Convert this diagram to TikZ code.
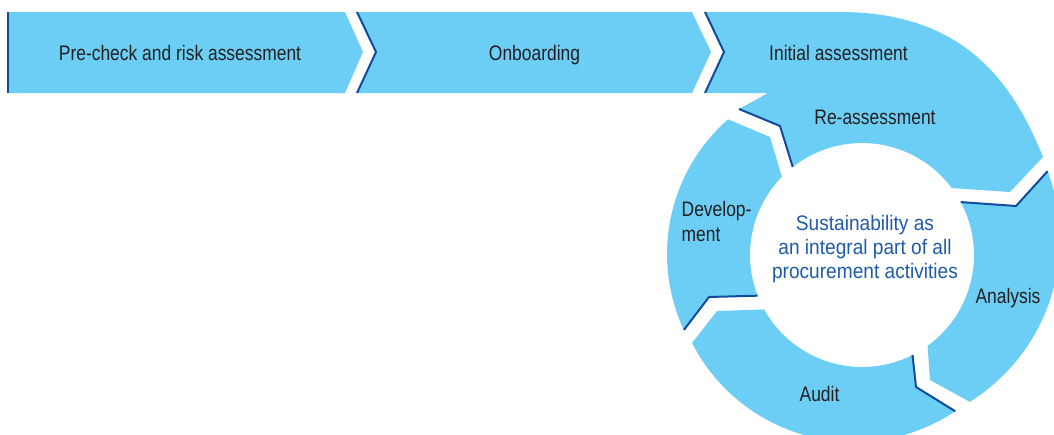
\documentclass[tikz,border=0pt]{standalone}
\usepackage{fontspec}
\setmainfont{Liberation Sans}
\newfontfamily\labelfont{Liberation Sans}[FakeStretch=0.83]
\newfontfamily\centerfont{Liberation Sans}[FakeStretch=0.91]
\usetikzlibrary{calc}
\definecolor{segfill}{HTML}{6CCEF5}
\definecolor{edgeblue}{HTML}{0F4C9E}
\definecolor{labelgray}{HTML}{231F20}
\definecolor{centerblue}{HTML}{1F5BA8}
\begin{document}
\begin{tikzpicture}[x=1pt,y=-1pt,
  seg/.style={fill=segfill,draw=none},
  edgeline/.style={draw=edgeblue,line width=2pt,line join=miter},
  lbl/.style={text=labelgray,font=\labelfont\fontsize{21}{25}\selectfont,inner sep=0pt},
  ctr/.style={text=centerblue,font=\centerfont\fontsize{21}{24}\selectfont,inner sep=0pt}]
\useasboundingbox (0,0) rectangle (1054,434);
\clip (0,0) rectangle (1054,434);
\coordinate (Ci) at (862,255);
\coordinate (Oa) at (868,239);
\coordinate (Ou) at (854,260);
\coordinate (Od) at (846,254);

% top bar, box 1
\path[seg] (7,12) -- (345,12) -- (363,52) -- (345,93) -- (7,93) -- cycle;
\draw[edgeline] (8,12) -- (8,93);
% box 2
\path[seg] (357,12) -- (692,12) -- (711,52) -- (692,93) -- (357,93) -- (376,52) -- cycle;
\draw[edgeline] (357,12) -- (376,52) -- (357,93);
% box 3 merged with re-assessment
\path[seg] (705,12) -- (840,12) .. controls (962,12) and (1012,80) .. (1043,157)
  -- (1010,192) -- ($(Ci)+(-36.7:112)$) arc[start angle=-36.7, end angle=-128.2, radius=112]
  -- (780,126) -- (739,109) -- (768,93) -- (705,93) -- (724,52) -- cycle;
\draw[edgeline] (705,12) -- (724,52) -- (705,93);
\draw[edgeline] (739,109) -- (780,126) -- ($(Ci)+(-128.2:112)$);
% analysis
\path[seg] ($(Oa)+(-20.7:192)$) -- (1016,206) -- ($(Ci)+(-28.2:112)$)
  arc[start angle=-28.2, end angle=54.2, radius=112] -- (930,380)
  -- ($(Oa)+(58:192)$) arc[start angle=58, end angle=-20.7, radius=192] -- cycle;
\draw[edgeline] ($(Oa)+(-20.7:192)$) -- (1016,206) -- ($(Ci)+(-28.2:112)$);
% audit
\path[seg] ($(Ou)+(56.2:182)$) -- (916,387) -- ($(Ci)+(63.2:112)$)
  arc[start angle=63.2, end angle=150.9, radius=112] -- (717,311)
  -- ($(Ou)+(152.9:182)$) arc[start angle=152.9, end angle=56.2, radius=182] -- cycle;
\draw[edgeline] ($(Ou)+(56.2:182)$) -- (916,387) -- ($(Ci)+(63.2:112)$);
% development
\path[seg] ($(Od)+(154.9:179)$) -- (709,297) -- ($(Ci)+(158.7:112)$)
  arc[start angle=158.7, end angle=224.3, radius=112] -- (770,137)
  -- ($(Od)+(228.8:179)$) arc[start angle=228.8, end angle=154.9, radius=179] -- cycle;
\draw[edgeline] ($(Od)+(154.9:179)$) -- (709,297) -- ($(Ci)+(158.7:112)$);

% labels
\node[lbl,anchor=base] (t1) at (180,60) {Pre-check and risk assessment};
\node[lbl,anchor=base] (t2) at (534.5,60) {Onboarding};
\node[lbl,anchor=base] (t3) at (838.5,60) {Initial assessment};
\node[lbl,anchor=base] (t4) at (875,124) {Re-assessment};
\node[lbl,anchor=base west] (t5) at (681.5,216.7) {\begin{tabular}[t]{@{}l@{}}Develop-\\ment\end{tabular}};
\node[lbl,anchor=base] (t6) at (1008,303) {Analysis};
\node[lbl,anchor=base] (t7) at (819.5,401.7) {Audit};
\node[ctr,anchor=base] (c) at (865,230) {\begin{tabular}[t]{@{}c@{}}Sustainability as\\an integral part of all\\procurement activities\end{tabular}};
\end{tikzpicture}
\end{document}
